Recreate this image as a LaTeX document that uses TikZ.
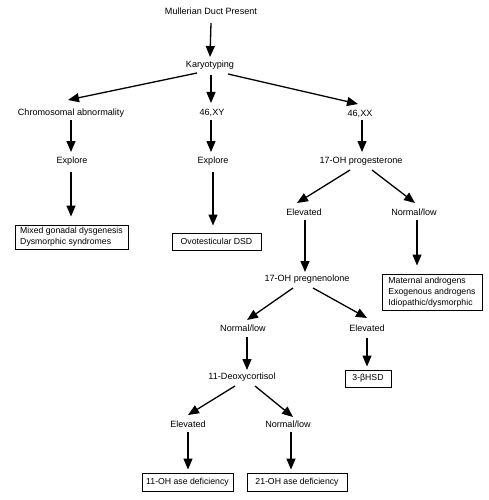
\documentclass[tikz,border=0pt]{standalone}
\usepackage{fontspec}
\setmainfont{Liberation Sans}
\usetikzlibrary{arrows.meta,calc}
\begin{document}
\begin{tikzpicture}[x=1pt,y=-1pt,
  every node/.style={font=\fontsize{9.1}{11}\selectfont, inner sep=0pt},
  box/.style={draw, line width=1pt, align=left, inner sep=0pt, font=\fontsize{8.7}{11}\selectfont},
  arr/.style={line width=1.3pt, -{Triangle[length=11pt,width=9pt]}}]
\useasboundingbox (0,0) rectangle (488,500);
% labels
\node (mdp) at (211,11) {Mullerian Duct Present};
\node (kar) at (210,65) {Karyotyping};
\node (chr) at (71,113) {Chromosomal abnormality};
\node (xy) at (212,113) {46,XY};
\node (xx) at (360,114) {46,XX};
\node (ex1) at (72,161) {Explore};
\node (ex2) at (213,161) {Explore};
\node (ohp) at (361,161) {17-OH progesterone};
\node (el1) at (304,212) {Elevated};
\node (nl1) at (414,212) {Normal/low};
\node (preg) at (307,279) {17-OH pregnenolone};
\node (nl2) at (243,328) {Normal/low};
\node (el2) at (367,328) {Elevated};
\node (deo) at (242,377) {11-Deoxycortisol};
\node (el3) at (188,424) {Elevated};
\node (nl3) at (288,424) {Normal/low};
% boxes
\node[box, minimum width=113pt, minimum height=24pt] (mix) at (71.5,237) {Mixed gonadal dysgenesis\\Dysmorphic syndromes};
\node[box, minimum width=89pt, minimum height=17pt] (ovo) at (216.5,241.5) {Ovotesticular DSD};
\node[box, minimum width=100pt, minimum height=36pt] (mat) at (432,292) {Maternal androgens\\Exogenous androgens\\Idiopathic/dysmorphic};
\node[box, minimum width=46pt, minimum height=17pt] (hsd) at (368,378.5) {3-βHSD};
\node[box, minimum width=91pt, minimum height=18pt] (d11) at (187.5,482) {11-OH ase deficiency};
\node[box, minimum width=100pt, minimum height=18pt] (d21) at (297,482) {21-OH ase deficiency};
% arrows
\draw[arr] ($(mdp)+(0,12)$) -- ($(kar)+(0,-8)$);
\draw[arr] ($(kar)+(-13,8)$) -- ($(chr)+(-3,-13)$);
\draw[arr] ($(kar)+(1,10)$) -- ($(xy)+(-1,-10)$);
\draw[arr] ($(kar)+(18,9)$) -- ($(xx)+(-2,-10)$);
\draw[arr] ($(chr)+(0,7)$) -- ($(ex1)+(-1,-9)$);
\draw[arr] ($(xy)+(-1,7)$) -- ($(ex2)+(-2,-9)$);
\draw[arr] ($(xx)+(2,6)$) -- ($(ohp)+(1,-9)$);
\draw[arr] ($(ex1)+(-1,11)$) -- ($(mix.north)+(-0.5,-8)$);
\draw[arr] ($(ex2)+(0,11)$) -- ($(ovo.north)+(-3.5,-7)$);
\draw[arr] ($(ohp)+(-11,9)$) -- ($(el1)+(-7,-9)$);
\draw[arr] ($(ohp)+(11,9)$) -- ($(nl1)+(1,-9)$);
\draw[arr] ($(el1)+(1,8)$) -- ($(preg)+(-2,-7)$);
\draw[arr] ($(nl1)+(3,8)$) -- ($(mat.north)+(-15,-8)$);
\draw[arr] ($(preg)+(-14,9)$) -- ($(nl2)+(4,-8)$);
\draw[arr] ($(preg)+(6,9)$) -- ($(el2)+(0,-10)$);
\draw[arr] ($(nl2)+(4,9)$) -- ($(deo)+(5,-7)$);
\draw[arr] ($(el2)+(0,10)$) -- ($(hsd.north)+(-1,-3)$);
\draw[arr] ($(deo)+(-7,9)$) -- ($(el3)+(0,-9)$);
\draw[arr] ($(deo)+(13,9)$) -- ($(nl3)+(5,-7)$);
\draw[arr] ($(el3)+(0,8)$) -- ($(d11.north)+(0.5,-3)$);
\draw[arr] ($(nl3)+(3,8)$) -- ($(d21.north)+(-6,-3)$);
\end{tikzpicture}
\end{document}
